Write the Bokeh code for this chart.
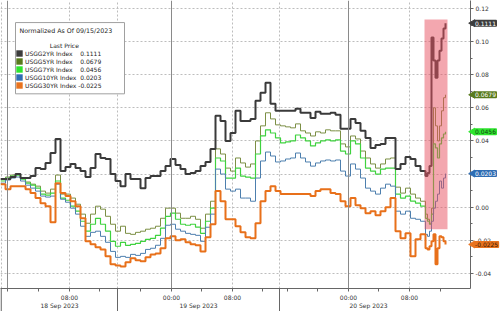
import math
from bokeh.plotting import figure
from bokeh.models import (FixedTicker, NumeralTickFormatter, Span, BoxAnnotation,
                          ColumnDataSource, Legend, LegendItem, Range1d)
from bokeh.core.properties import value
from bokeh.embed import file_html
from bokeh.resources import INLINE

# time index (compressed trading-time slots), last points are denser
t = [float(i) for i in range(86)] + [85.4, 85.8, 86.2, 86.6, 87.0, 87.4, 87.8, 88.2, 88.6, 89.0]

usgg2 = [
    0.0170, 0.0170, 0.0182, 0.0200, 0.0176, 0.0176, 0.0188, 0.0236, 0.0230, 0.0267,
    0.0327, 0.0412, 0.0218, 0.0242, 0.0261, 0.0236, 0.0218, 0.0182, 0.0236, 0.0321,
    0.0297, 0.0291, 0.0200, 0.0158, 0.0127, 0.0200, 0.0170, 0.0170, 0.0115, 0.0176,
    0.0188, 0.0188, 0.0218, 0.0248, 0.0291, 0.0255, 0.0230, 0.0200, 0.0206, 0.0218,
    0.0248, 0.0273, 0.0352, 0.0552, 0.0521, 0.0400, 0.0448, 0.0582, 0.0521, 0.0521,
    0.0533, 0.0642, 0.0691, 0.0752, 0.0624, 0.0582, 0.0582, 0.0582, 0.0582, 0.0594,
    0.0570, 0.0570, 0.0539, 0.0576, 0.0564, 0.0564, 0.0570, 0.0558, 0.0473, 0.0473,
    0.0533, 0.0509, 0.0461, 0.0418, 0.0358, 0.0376, 0.0382, 0.0418, 0.0418, 0.0230,
    0.0261, 0.0303, 0.0291, 0.0248, 0.0218, 0.0188,
    0.0206, 0.0248, 0.1024, 0.0885, 0.0782, 0.0885, 0.0945, 0.1018, 0.1079, 0.1111]

usgg5 = [
    0.0170, 0.0182, 0.0194, 0.0200, 0.0176, 0.0152, 0.0139, 0.0127, 0.0097, 0.0085,
    0.0109, 0.0194, 0.0079, 0.0079, 0.0055, 0.0018, -0.0042, -0.0097, -0.0042, 0.0006,
    -0.0012, -0.0055, -0.0103, -0.0145, -0.0115, -0.0158, -0.0164, -0.0152, -0.0145, -0.0133,
    -0.0127, -0.0115, -0.0067, -0.0006, -0.0006, -0.0036, -0.0067, -0.0067, -0.0055, -0.0073,
    -0.0127, -0.0042, 0.0036, 0.0352, 0.0321, 0.0236, 0.0218, 0.0297, 0.0267, 0.0242,
    0.0261, 0.0400, 0.0491, 0.0570, 0.0533, 0.0497, 0.0491, 0.0485, 0.0479, 0.0503,
    0.0461, 0.0448, 0.0430, 0.0455, 0.0448, 0.0467, 0.0461, 0.0461, 0.0382, 0.0364,
    0.0430, 0.0412, 0.0339, 0.0297, 0.0261, 0.0236, 0.0261, 0.0291, 0.0297, 0.0121,
    0.0085, 0.0115, 0.0079, 0.0055, 0.0036, -0.0042,
    -0.0073, -0.0097, -0.0006, 0.0600, 0.0491, 0.0400, 0.0491, 0.0582, 0.0661, 0.0679]

usgg7 = [
    0.0158, 0.0176, 0.0188, 0.0194, 0.0170, 0.0145, 0.0133, 0.0115, 0.0079, 0.0073,
    0.0085, 0.0158, 0.0055, 0.0042, 0.0006, -0.0024, -0.0085, -0.0145, -0.0103, -0.0067,
    -0.0103, -0.0145, -0.0206, -0.0236, -0.0212, -0.0230, -0.0224, -0.0218, -0.0206, -0.0194,
    -0.0188, -0.0170, -0.0127, -0.0055, -0.0036, -0.0073, -0.0103, -0.0109, -0.0103, -0.0121,
    -0.0158, -0.0085, -0.0006, 0.0297, 0.0279, 0.0176, 0.0176, 0.0236, 0.0188, 0.0182,
    0.0176, 0.0321, 0.0430, 0.0467, 0.0448, 0.0418, 0.0388, 0.0394, 0.0400, 0.0436,
    0.0418, 0.0400, 0.0370, 0.0388, 0.0400, 0.0406, 0.0400, 0.0406, 0.0339, 0.0321,
    0.0400, 0.0382, 0.0297, 0.0236, 0.0218, 0.0200, 0.0230, 0.0236, 0.0236, 0.0079,
    0.0055, 0.0067, 0.0036, 0.0024, 0.0006, -0.0067,
    -0.0085, -0.0103, -0.0042, 0.0382, 0.0358, 0.0297, 0.0382, 0.0418, 0.0442, 0.0456]

usgg10 = [
    0.0145, 0.0164, 0.0176, 0.0182, 0.0158, 0.0133, 0.0115, 0.0097, 0.0067, 0.0061,
    0.0067, 0.0139, 0.0048, 0.0030, -0.0006, -0.0042, -0.0115, -0.0176, -0.0152, -0.0145,
    -0.0176, -0.0212, -0.0267, -0.0303, -0.0297, -0.0303, -0.0285, -0.0291, -0.0279, -0.0255,
    -0.0248, -0.0230, -0.0188, -0.0109, -0.0103, -0.0133, -0.0145, -0.0158, -0.0164, -0.0170,
    -0.0206, -0.0121, -0.0042, 0.0230, 0.0200, 0.0109, 0.0097, 0.0109, 0.0055, 0.0055,
    0.0036, 0.0176, 0.0279, 0.0333, 0.0309, 0.0273, 0.0279, 0.0291, 0.0297, 0.0327,
    0.0297, 0.0273, 0.0248, 0.0267, 0.0279, 0.0285, 0.0279, 0.0285, 0.0218, 0.0188,
    0.0261, 0.0230, 0.0176, 0.0115, 0.0097, 0.0079, 0.0115, 0.0139, 0.0127, -0.0024,
    -0.0042, -0.0024, -0.0067, -0.0073, -0.0085, -0.0164,
    -0.0176, -0.0145, -0.0085, -0.0006, 0.0036, 0.0079, 0.0158, 0.0115, 0.0176, 0.0203]

usgg30 = [
    0.0139, 0.0109, 0.0127, 0.0127, 0.0127, 0.0109, 0.0085, 0.0055, 0.0024, 0.0006,
    -0.0091, 0.0145, 0.0085, 0.0067, 0.0036, 0.0006, -0.0067, -0.0206, -0.0224, -0.0242,
    -0.0255, -0.0297, -0.0345, -0.0352, -0.0358, -0.0333, -0.0309, -0.0321, -0.0327, -0.0303,
    -0.0285, -0.0279, -0.0248, -0.0188, -0.0176, -0.0200, -0.0194, -0.0212, -0.0224, -0.0230,
    -0.0267, -0.0182, -0.0103, 0.0097, 0.0036, -0.0073, -0.0073, -0.0115, -0.0152, -0.0182,
    -0.0188, -0.0097, 0.0036, 0.0097, 0.0127, 0.0097, 0.0079, 0.0079, 0.0079, 0.0079,
    0.0079, 0.0079, 0.0067, 0.0097, 0.0109, 0.0109, 0.0085, 0.0079, 0.0036, 0.0006,
    0.0055, 0.0012, -0.0006, -0.0036, -0.0024, -0.0048, -0.0024, 0.0000, 0.0055, -0.0145,
    -0.0188, -0.0158, -0.0297, -0.0194, -0.0164, -0.0248,
    -0.0255, -0.0236, -0.0206, -0.0164, -0.0345, -0.0248, -0.0176, -0.0182, -0.0206, -0.0225]

names = ["USGG2YR Index", "USGG5YR Index", "USGG7YR Index", "USGG10YR Index", "USGG30YR Index"]
last_price = [0.1111, 0.0679, 0.0456, 0.0203, -0.0225]
series = [usgg2, usgg5, usgg7, usgg10, usgg30]
legend_title = "Normalized As Of 09/15/2023"
legend_subtitle = "Last Price"

line_colors = ["#3a3a3a", "#7c8f45", "#3fd23f", "#4d7fae", "#e8701a"]
swatch_colors = ["#3c3c3c", "#587a1c", "#2ee52e", "#2f6db3", "#e8731f"]
tag_text_colors = ["#ffffff", "#ffffff", "#114411", "#ffffff", "#3a1800"]
line_widths = [2.0, 1.0, 1.2, 1.0, 2.0]

Y_MIN, Y_MAX = -0.0491, 0.1248
y_ticks = [-0.04, -0.02, 0.0, 0.02, 0.04, 0.06, 0.08, 0.10, 0.12]
y_minor = [-0.05, -0.03, -0.01, 0.01, 0.03, 0.05, 0.07, 0.09, 0.11]
hour_ticks = [1.4, 7.6, 13.8, 19.8, 28.0, 34.2, 40.2, 46.4, 52.4, 57.4, 63.4, 69.6, 75.6, 81.8, 88.0]
time_ticks = [13.8, 34.2, 46.4, 69.6, 81.8]
time_labels = ["08:00", "00:00", "08:00", "00:00", "08:00"]
date_ticks = [11.8, 39.6, 73.6]
date_labels = ["18 Sep 2023", "19 Sep 2023", "20 Sep 2023"]
day_separators = [0.15, 23.4, 55.8]
midnights = [1.4, 34.2, 69.6]
dotted_x = [0.15, 13.8, 23.4, 46.4, 55.8, 81.8]
hl_left, hl_right, hl_bottom, hl_top = 84.8, 89.4, -0.0133, 0.1133
X_END = 94.0
FRAME_W, FRAME_H = 470, 287   # plot area in px (axis band below takes the rest)

FONT = "DejaVu Sans"
NAN = float("nan")
NB = "\u00a0"


def sx_to_x(px):
    return px / FRAME_W * X_END


def sy_to_y(py):
    return Y_MAX - py / FRAME_H * (Y_MAX - Y_MIN)


p = figure(width=500, height=311, output_backend="svg", toolbar_location=None,
           x_range=Range1d(0, X_END), y_range=Range1d(Y_MIN, Y_MAX),
           y_axis_location="right", min_border_left=0, min_border_top=0,
           min_border_bottom=18, min_border_right=30,
           outline_line_color=None, background_fill_color="white",
           border_fill_color="white")

# x axis
xa = p.xaxis[0]
xa.ticker = FixedTicker(ticks=sorted(time_ticks + date_ticks), minor_ticks=hour_ticks)
ov = {}
for k, lab in zip(time_ticks, time_labels):
    ov[k] = lab
for k, lab in zip(date_ticks, date_labels):
    ov[k] = "\n" + lab
xa.major_label_overrides = ov
xa.major_tick_out = 0
xa.major_tick_in = 0
xa.minor_tick_out = 3
xa.minor_tick_in = 0
xa.major_label_standoff = 2
xa.major_label_text_font = FONT
xa.major_label_text_font_size = "6px"
xa.major_label_text_color = "#333333"
xa.axis_line_color = "#666666"
xa.minor_tick_line_color = "#666666"

# y axis
ya = p.yaxis[0]
ya.ticker = FixedTicker(ticks=y_ticks, minor_ticks=y_minor)
ya.formatter = NumeralTickFormatter(format="0.00")
ya.major_tick_out = 3
ya.major_tick_in = 0
ya.minor_tick_out = 2
ya.minor_tick_in = 0
ya.major_label_standoff = 2
ya.major_label_text_font = FONT
ya.major_label_text_font_size = "6px"
ya.major_label_text_color = "#333333"
ya.axis_line_color = "#666666"
ya.major_tick_line_color = "#666666"
ya.minor_tick_line_color = "#666666"

# grids
p.ygrid.ticker = FixedTicker(ticks=y_ticks)
p.ygrid.grid_line_color = "#bdbdbd"
p.ygrid.grid_line_dash = "2 2"
p.xgrid.ticker = FixedTicker(ticks=dotted_x)
p.xgrid.grid_line_color = "#bdbdbd"
p.xgrid.grid_line_dash = "2 2"
for m in midnights:
    p.add_layout(Span(location=m, dimension="height", line_color="#8a8a8a", line_width=1))

# day separators continuing through the date-label band
p.segment(x0=day_separators, x1=day_separators,
          y0=[Y_MIN] * len(day_separators), y1=[Y_MIN - 0.015] * len(day_separators),
          line_color="#666666", line_width=1, level="overlay")

# lines (thin first, thick last), stair-stepped like tick data
for idx in [1, 2, 3, 0, 4]:
    p.step(t, series[idx], line_color=line_colors[idx], line_width=line_widths[idx], mode="after")

# highlight box over the last hours
p.add_layout(BoxAnnotation(left=hl_left, right=hl_right, bottom=hl_bottom, top=hl_top,
                           fill_color="#e8505f", fill_alpha=0.5, line_alpha=0))

# last-value tags on the right axis (overlay level so they may sit over the axis)
n = len(last_price)
tag_src = ColumnDataSource(dict(
    xa=[X_END + 0.45] * n, xt=[X_END + 0.7] * n, y=last_price,
    txt=[f"{v:.4f}" for v in last_price], bg=swatch_colors, tc=tag_text_colors))
p.scatter(x="xa", y="y", source=tag_src, marker="triangle", size=7,
          angle=math.pi / 2, fill_color="bg", line_color="bg", level="overlay")
p.text(x="xt", y="y", text="txt", source=tag_src, text_font=value(FONT),
       text_font_size="6px", text_color="tc", text_align="left",
       text_baseline="middle", background_fill_color="bg",
       background_fill_alpha=1.0, padding=1, border_radius=1, level="overlay")

# legend frame and title (drawn as glyphs so the legend rows sit on top)
BOX_L, BOX_R, BOX_T, BOX_B = 15, 124, 22, 93
p.quad(left=[sx_to_x(BOX_L)], right=[sx_to_x(BOX_R)], top=[sy_to_y(BOX_T)],
       bottom=[sy_to_y(BOX_B)], fill_color="white", line_color="#a0a0a0", line_width=1)
p.text(x=[sx_to_x(BOX_L + 4)], y=[sy_to_y(BOX_T + 8)], text=[legend_title],
       text_font=value(FONT), text_font_size="6.3px", text_color="#222222",
       text_align="left", text_baseline="middle")

# legend rows with square swatches
items = []
gaps = [4, 4, 4, 2, 1]
blank = p.quad(left=[NAN], right=[NAN], top=[NAN], bottom=[NAN], fill_alpha=0, line_alpha=0)
items.append(LegendItem(label=NB * 13 + legend_subtitle, renderers=[blank]))
for name, val, c, g in zip(names, last_price, swatch_colors, gaps):
    r = p.quad(left=[NAN], right=[NAN], top=[NAN], bottom=[NAN], fill_color=c, line_color=None)
    items.append(LegendItem(label=f"{name}{NB * g}{val:.4f}", renderers=[r]))

LEG_PAD, ROW_H = 4, 8
legend_top = BOX_T + 10
legend_h = 2 * LEG_PAD + ROW_H * len(items)
legend = Legend(items=items, location=(BOX_L, FRAME_H - legend_top - legend_h),
                label_text_font=FONT, label_text_font_size="6px",
                label_text_color="#222222", label_height=ROW_H, label_standoff=2,
                glyph_width=8, glyph_height=ROW_H, spacing=0, padding=LEG_PAD, margin=0,
                border_line_color=None, background_fill_alpha=0.0)
p.add_layout(legend)

open("out.html", "w").write(file_html(p, INLINE))
